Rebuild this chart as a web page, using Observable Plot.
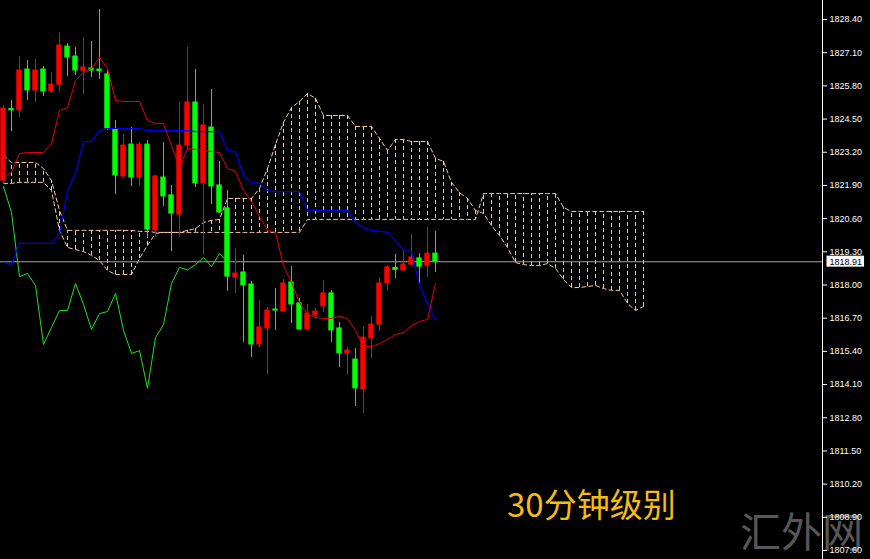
<!DOCTYPE html>
<html><head><meta charset="utf-8">
<script src="https://cdn.jsdelivr.net/npm/d3@7"></script>
<script src="https://cdn.jsdelivr.net/npm/@observablehq/plot@0.6"></script>
<style>
html,body{margin:0;padding:0;background:#000;overflow:hidden}
#wrap{position:relative;width:870px;height:559px;background:#000}
#wm{position:absolute;left:740px;top:509px;font-family:"Noto Sans CJK SC";font-size:41px;line-height:1;color:#575757;white-space:nowrap}
#title{position:absolute;left:507px;top:487px;font-family:"Noto Sans CJK SC";font-size:33px;line-height:1;color:#f7bc14;white-space:nowrap}
#chart{position:absolute;left:0;top:0}
</style></head>
<body><div id="wrap"><div id="wm">汇外网</div><div id="chart"></div><div id="title">30分钟级别</div></div>
<script>
// OHLC, index 0..54 (30-minute bars)
const open  = [1822.09,1824.89,1824.84,1826.44,1825.62,1826.44,1825.58,1825.85,1827.34,1826.95,1826.40,1826.48,1826.44,1826.25,1824.09,1822.25,1823.50,1822.21,1823.50,1820.14,1822.21,1821.51,1820.76,1823.46,1825.15,1821.98,1824.17,1821.90,1821.00,1818.29,1818.49,1818.02,1815.67,1816.30,1817.04,1816.96,1818.10,1817.28,1816.26,1816.81,1817.16,1817.67,1816.30,1815.32,1815.08,1813.91,1815.91,1816.45,1818.06,1818.67,1818.57,1818.80,1819.04,1818.76,1819.23];
const high  = [1825.03,1825.23,1826.95,1826.79,1826.83,1826.56,1826.32,1827.89,1827.46,1827.30,1827.70,1827.54,1828.79,1826.40,1824.44,1823.90,1824.17,1823.58,1823.66,1822.29,1823.58,1821.90,1825.15,1827.30,1826.44,1825.07,1825.66,1822.84,1821.70,1819.43,1819.16,1818.14,1817.39,1817.12,1817.86,1818.22,1818.72,1817.47,1817.24,1817.08,1818.18,1817.79,1816.53,1815.55,1815.51,1816.37,1816.77,1818.29,1818.76,1819.20,1819.31,1819.98,1819.23,1820.25,1820.10];
const low   = [1821.94,1824.01,1824.56,1825.23,1825.15,1825.38,1825.50,1825.54,1826.17,1826.21,1825.46,1826.13,1826.05,1824.05,1821.55,1822.17,1821.86,1821.86,1819.86,1819.86,1821.08,1819.31,1819.86,1823.27,1821.82,1819.16,1821.15,1820.80,1817.75,1817.67,1815.75,1815.16,1815.55,1814.49,1816.22,1816.92,1816.49,1816.22,1816.22,1816.65,1816.92,1815.75,1814.77,1814.46,1813.24,1812.97,1815.12,1816.18,1817.75,1818.26,1818.53,1818.76,1818.06,1818.29,1818.49];
const close = [1824.91,1824.84,1826.40,1825.62,1826.40,1825.58,1825.85,1827.38,1826.91,1826.40,1826.52,1826.40,1826.38,1824.13,1822.29,1823.46,1822.21,1823.50,1820.17,1822.25,1821.47,1820.80,1823.46,1825.15,1821.98,1824.25,1821.86,1820.84,1818.33,1818.45,1817.98,1815.67,1816.34,1817.00,1817.00,1818.06,1817.24,1816.26,1816.88,1816.96,1817.67,1816.22,1815.32,1815.43,1813.95,1815.94,1816.45,1818.06,1818.69,1818.59,1818.80,1819.08,1818.72,1819.23,1818.91];
// Ichimoku lines
const tenkan = [1822.21,1822.41,1823.15,1823.19,1823.19,1823.19,1823.54,1824.84,1824.95,1826.01,1826.32,1826.48,1826.91,1826.48,1825.23,1825.19,1825.19,1825.19,1824.44,1824.33,1824.33,1823.46,1822.60,1823.35,1823.31,1823.27,1823.23,1823.19,1822.56,1822.45,1821.70,1821.27,1820.68,1820.14,1820.06,1818.76,1818.10,1817.31,1816.85,1816.73,1816.69,1816.69,1816.77,1816.69,1816.22,1815.59,1815.59,1815.71,1815.87,1816.06,1816.14,1816.41,1816.57,1816.65,1818.06];
const kijun  = [1818.88,1818.80,1819.63,1819.63,1819.63,1819.63,1819.63,1819.98,1821.70,1822.37,1823.62,1823.62,1824.05,1824.13,1824.13,1824.13,1824.13,1824.13,1824.05,1824.05,1824.05,1824.05,1824.05,1824.05,1824.01,1824.01,1824.01,1824.01,1823.27,1823.23,1822.29,1822.02,1821.98,1821.70,1821.66,1821.66,1821.66,1821.66,1820.92,1820.92,1820.92,1820.92,1820.92,1820.92,1820.45,1820.25,1820.14,1820.10,1820.06,1819.74,1819.35,1819.31,1817.98,1817.28,1816.61];
const spanA  = [1821.98,1821.98,1822.02,1822.02,1822.02,1822.02,1821.70,1820.14,1819.47,1819.39,1819.31,1819.16,1818.96,1818.57,1818.41,1818.41,1818.41,1819.04,1819.55,1820.02,1820.06,1820.06,1820.06,1820.14,1820.21,1820.45,1820.53,1820.57,1821.39,1821.39,1821.39,1821.39,1821.78,1822.56,1823.50,1824.37,1824.95,1825.19,1825.50,1825.31,1824.64,1824.64,1824.64,1824.64,1824.21,1824.21,1824.21,1823.74,1823.27,1823.70,1823.70,1823.62,1823.62,1823.62,1822.96,1822.84,1822.02,1821.62,1821.39,1820.92,1820.80,1820.33,1819.94,1819.47,1818.88,1818.80,1818.76,1818.76,1818.84,1818.65,1818.22,1817.90,1817.90,1817.94,1817.98,1817.86,1817.79,1817.79,1817.28,1817.00,1817.16];
const spanB  = [1823.07,1822.80,1822.80,1822.80,1822.80,1822.56,1822.09,1820.92,1820.14,1820.14,1820.14,1820.14,1820.14,1820.14,1820.14,1820.14,1820.14,1820.10,1820.10,1820.06,1820.06,1820.06,1820.06,1820.06,1820.06,1820.06,1820.06,1820.06,1820.06,1820.06,1820.06,1820.06,1820.06,1820.06,1820.06,1820.06,1820.06,1820.06,1820.57,1820.57,1820.57,1820.57,1820.57,1820.57,1820.57,1820.57,1820.57,1820.57,1820.57,1820.57,1820.57,1820.57,1820.57,1820.57,1820.57,1820.57,1820.57,1820.57,1820.57,1820.57,1821.58,1821.58,1821.58,1821.58,1821.58,1821.58,1821.58,1821.58,1821.58,1821.58,1821.04,1820.88,1820.88,1820.88,1820.88,1820.88,1820.88,1820.88,1820.88,1820.88,1820.88];
const yTicks = [1807.60,1808.90,1810.20,1811.50,1812.80,1814.10,1815.40,1816.70,1818.00,1819.30,1820.60,1821.90,1823.20,1824.50,1825.80,1827.10,1828.40];
const lastPrice = 1818.91;
const chikouShift = 26;

const xDomain = [-0.375, 102.375];
const yDomain = [1807.248, 1829.144];

const candles = open.map((o, i) => ({i, o, h: high[i], l: low[i], c: close[i]}));
const cloud = spanA.map((a, i) => ({i, a, b: spanB[i]}));
const series = arr => arr.map((v, i) => ({i, v}));
const chikou = series(close.slice(chikouShift));
const upC = "#ff0000", downC = "#00ff00";
const col = d => d.c > d.o ? upC : downC;
const cloudC = "#f6caa4";

const chart = Plot.plot({
  width: 870, height: 559,
  marginLeft: 0, marginRight: 48, marginTop: 0, marginBottom: 0,
  style: {background: "transparent", color: "#fff", fontFamily: "'Liberation Sans', Arial, sans-serif", fontSize: "9px", overflow: "visible"},
  x: {domain: xDomain, axis: null},
  y: {domain: yDomain, axis: null},
  marks: [
    Plot.ruleX(cloud, {x: "i", y1: "a", y2: "b", stroke: cloudC, strokeWidth: 1, strokeDasharray: "4,3"}),
    Plot.line(cloud, {x: "i", y: "a", stroke: cloudC, strokeWidth: 1, strokeDasharray: "4,3"}),
    Plot.line(cloud, {x: "i", y: "b", stroke: cloudC, strokeWidth: 1, strokeDasharray: "4,3"}),
    Plot.ruleY([lastPrice], {stroke: "#a4a4a4", strokeWidth: 1}),
    Plot.ruleX(candles, {x: "i", y1: "l", y2: "h", stroke: col, strokeWidth: 1}),
    Plot.rect(candles, {x1: d => d.i - 0.27, x2: d => d.i + 0.27, y1: "o", y2: "c", fill: col, stroke: col, strokeWidth: 1}),
    Plot.line(chikou, {x: "i", y: "v", stroke: "#22e022", strokeWidth: 1}),
    Plot.line(series(kijun), {x: "i", y: "v", stroke: "#0000f0", strokeWidth: 1.2}),
    Plot.line(series(tenkan), {x: "i", y: "v", stroke: "#e80000", strokeWidth: 1}),
    Plot.ruleX([xDomain[1]], {stroke: "#fff", strokeWidth: 1}),
    Plot.axisY({anchor: "right", ticks: yTicks, tickSize: 4, tickPadding: 3, tickFormat: d => d.toFixed(2), color: "#fff", fontSize: 9}),
    Plot.text([lastPrice], {x: () => xDomain[1], y: d => d, text: d => d.toFixed(2), dx: 7, textAnchor: "start", fill: "#000", fontSize: 9})
  ]
});
document.getElementById("chart").appendChild(chart);

const svg = d3.select(chart.tagName.toLowerCase() === "svg" ? chart : chart.querySelector("svg"));
svg.selectAll("text").filter(function() {
  return this.textContent === lastPrice.toFixed(2);
}).each(function() {
  const bb = this.getBBox();
  d3.select(this.parentNode).insert("rect", () => this)
    .attr("transform", this.getAttribute("transform"))
    .attr("x", bb.x - 3).attr("y", bb.y - 1)
    .attr("width", bb.width + 5).attr("height", bb.height + 1)
    .attr("fill", "#fff").attr("stroke", "none");
});
</script>
</body></html>
